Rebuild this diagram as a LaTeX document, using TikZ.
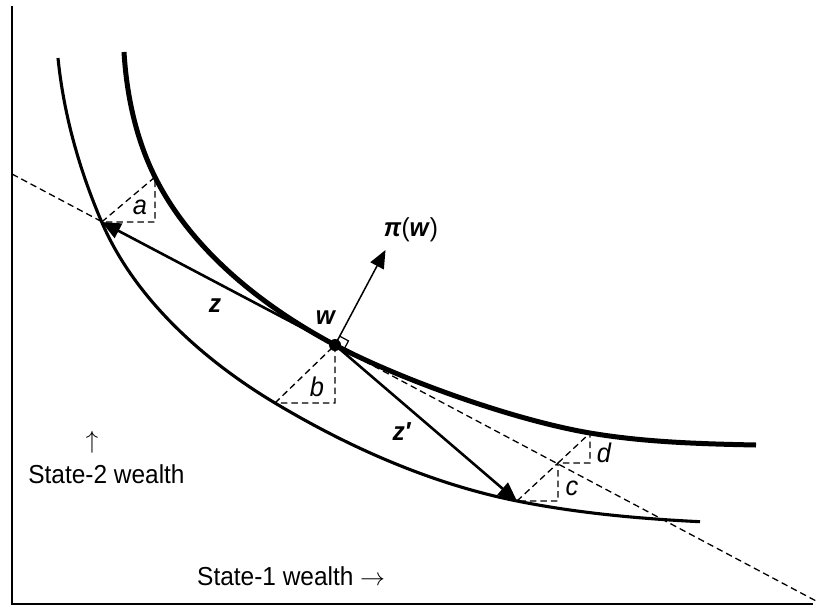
\documentclass[tikz,border=0pt]{standalone}
\usepackage{fontspec}
\setmainfont[FakeStretch=0.94]{Liberation Sans}
\usetikzlibrary{arrows.meta,calc}

\begin{document}
\begin{tikzpicture}[x=1pt,y=-1pt,every node/.style={inner sep=0pt,font=\fontsize{26}{30}\selectfont},
  guide/.style={dashed,dash pattern=on 6.5pt off 4pt,line width=1.3pt},
  vec/.style={line width=2.6pt,-{Triangle[length=19pt,width=16pt]}},
  lab/.style={font=\fontsize{27}{30}\selectfont\itshape}]
\useasboundingbox (0,0) rectangle (818,608);
% axes
\draw[line width=1.7pt] (12,6) -- (12,604) -- (813,604);
% points
\coordinate (w) at (335,345);
\coordinate (ztip) at (101.7,222);
\coordinate (zptip) at (517,501);
\coordinate (atop) at (155,177);
\coordinate (dtop) at (590,433);
\coordinate (bleft) at (275,403);
\coordinate (cd) at (558,463);
% indifference curves
\draw[line width=5pt] (124,52) .. controls (126.6,95) and (135.8,138.5) .. (atop)
  .. controls (191.7,250.4) and (262.6,306.5) .. (w)
  .. controls (396.8,377.8) and (511.1,419.6) .. (dtop)
  .. controls (644.2,442.2) and (701,443.9) .. (756,445);
\draw[line width=3.1pt] (58,58) .. controls (63.6,114.3) and (79.4,170) .. (ztip)
  .. controls (134.6,298.7) and (203.4,360.1) .. (bleft)
  .. controls (349.6,447.7) and (431.7,483.9) .. (zptip)
  .. controls (576.8,513) and (639,518.7) .. (700,521.7);
% tangent line
\coordinate (dl) at (12,174);
\coordinate (dr) at (818,602);
\draw[guide] (dl) -- (dr);
% triangles
\draw[guide] (ztip) -- (atop) -- (atop|-ztip) -- cycle;
\draw[guide] (bleft) -- (w) -- (w|-bleft) -- cycle;
\draw[guide] (zptip) -- (cd) -- (cd|-zptip) -- cycle;
\draw[guide] (cd) -- (dtop) -- (dtop|-cd) -- cycle;
% vectors
\draw[vec] (w) -- (ztip);
\draw[vec] (w) -- (zptip);
\coordinate (pitip) at (385.5,250);
\draw[line width=1.5pt,-{Triangle[length=18pt,width=15pt]}] (w) -- (pitip);
\draw[line width=1.2pt] ($(w)!10pt!(pitip)$) -- ++(8.8,4.7) -- ($(w)+(8.8,4.7)$);
\fill (w) circle (6pt);
% labels
\node[lab] (la) at (140,207) {a};
\node[lab] (lb) at (317,387) {b};
\node[lab] (lc) at (572,488) {c};
\node[lab] (ld) at (604,453) {d};
\node (lz) at (215,306) {\textbf{\textit{z}}};
\node (lw) at (326,318) {\textbf{\textit{w}}};
\node (lzp) at (402,432) {\textbf{\textit{z′}}};
\node (lpi) at (411,230) {\textbf{\textit{π}}(\textbf{\textit{w}})};
\node (up) at (92,442) {$\uparrow$};
\node[anchor=base] (s2) at (106.5,483) {State-2 wealth};
\node[anchor=base west] (s1) at (197,585) {State-1 wealth $\rightarrow$};
\end{tikzpicture}
\end{document}
